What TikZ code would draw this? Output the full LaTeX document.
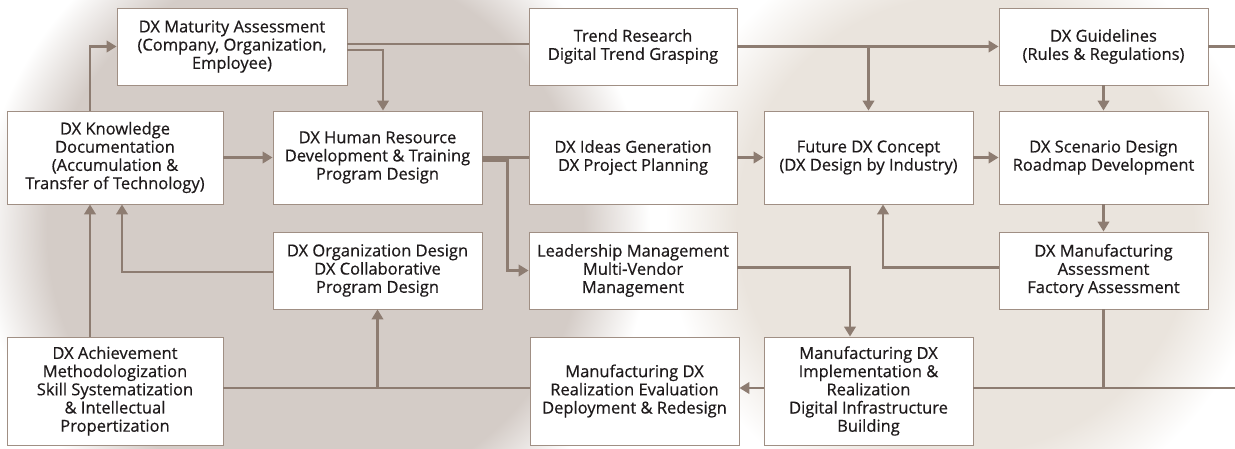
\documentclass[tikz,border=0pt]{standalone}
\usepackage{fontspec}
\setmainfont{Open Sans}
\newfontfamily\boxfont{Open Sans}[FakeBold=0.5]
\usetikzlibrary{arrows.meta,positioning,calc}
\definecolor{lnc}{RGB}{141,124,113}
\definecolor{boxc}{RGB}{160,143,132}
\definecolor{txtc}{RGB}{30,26,27}
\definecolor{blobl}{RGB}{212,204,199}
\definecolor{blobr}{RGB}{234,228,221}
\pgfdeclareradialshading{blobL}{\pgfpoint{0bp}{0bp}}{color(0bp)=(blobl); color(20bp)=(blobl); color(25bp)=(white); color(50bp)=(white)}
\pgfdeclareradialshading{blobR}{\pgfpoint{0bp}{0bp}}{color(0bp)=(blobr); color(19bp)=(blobr); color(25bp)=(white); color(50bp)=(white)}
\tikzset{
box/.style={draw=boxc, fill=white, line width=0.9pt, align=center, inner sep=0pt, text=txtc, font=\boxfont\fontsize{16.5}{18.2}\selectfont, minimum width=209pt, minimum height=77pt},
ln/.style={draw=lnc, line width=2.4pt},
arr/.style={ln, -{Triangle[length=10pt,width=11.5pt]}}
}

\begin{document}
\begin{tikzpicture}[x=1pt,y=-1pt]
\useasboundingbox (0,0) rectangle (1235,448);
\fill[white] (0,0) rectangle (1235,448);
\shade[shading=blobR] (965,224) circle (300pt);
\shade[shading=blobL] (315,230) circle (335pt);

\node (mat) at (232,46.5) [box, minimum width=230pt] {DX Maturity Assessment\\(Company, Organization,\\Employee)};
\node (trend) at (633,46.5) [box, minimum width=208pt] {Trend Research\\Digital Trend Grasping};
\node (guide) at (1103.5,46.5) [box] {DX Guidelines\\(Rules \& Regulations)};
\node (know) at (115,157.5) [box, minimum width=216pt, minimum height=93pt] {DX Knowledge\\Documentation\\(Accumulation \&\\Transfer of Technology)};
\node (hr) at (377.5,157.5) [box, minimum height=93pt] {DX Human Resource\\Development \& Training\\Program Design};
\node (ideas) at (633,157.5) [box, minimum width=208pt, minimum height=93pt] {DX Ideas Generation\\DX Project Planning};
\node (future) at (868.5,157.5) [box, minimum height=93pt] {Future DX Concept\\(DX Design by Industry)};
\node (scen) at (1103.5,157.5) [box, minimum height=93pt] {DX Scenario Design\\Roadmap Development};
\node (org) at (377.5,270.5) [box] {DX Organization Design\\DX Collaborative\\Program Design};
\node (lead) at (633,270.5) [box, minimum width=208pt] {Leadership Management\\Multi-Vendor\\Management};
\node (mfga) at (1103.5,270.5) [box] {DX Manufacturing\\Assessment\\Factory Assessment};
\node (achv) at (115,391) [box, minimum width=216pt, minimum height=108pt] {DX Achievement\\Methodologization\\Skill Systematization\\\& Intellectual\\Propertization};
\node (real) at (634.5,391) [box, minimum height=108pt] {Manufacturing DX\\Realization Evaluation\\Deployment \& Redesign};
\node (impl) at (868.5,391) [box, minimum height=108pt] {Manufacturing DX\\Implementation \&\\Realization\\Digital Infrastructure\\Building};

\coordinate (gout) at (1235,46.5);
\coordinate (bot) at ([yshift=3pt]achv.east);
\coordinate (iout) at (1235,388);

\draw[arr] ([xshift=-25pt]know.north) |- (mat.west);
\draw[ln] ([yshift=2.5pt]mat.east) -- ([yshift=2.5pt]trend.west);
\draw[arr] ([yshift=-3.5pt]mat.east) -| ([xshift=5.5pt]hr.north);
\draw[arr] (know) -- (hr);
\draw[ln] (hr) -- (ideas);
\draw[arr] ([yshift=-3pt]hr.east) -| ([xshift=-21pt]lead.west) -- (lead.west);
\draw[arr] (trend) -- (guide);
\draw[arr] (trend.east -| future.north) -- (future.north);
\draw[ln] (guide) -- (gout);
\draw[arr] (ideas) -- (future);
\draw[arr] (future) -- (scen);
\draw[arr] (guide) -- (scen);
\draw[arr] (scen) -- (mfga);
\draw[arr] ([yshift=3pt]mfga.west) -| ([xshift=14.5pt]future.south);
\draw[arr] ([yshift=3pt]lead.east) -| ([xshift=-18.5pt]impl.north);
\draw[arr] ([yshift=3pt]impl.west) -- ([yshift=3pt]real.east);
\draw[ln] ([yshift=3pt]impl.east) -- (iout);
\draw[ln] (mfga.south) -- (mfga.south |- iout);
\draw[ln] (bot) -- ([yshift=3pt]real.west);
\draw[arr] (bot -| org.south) -- (org.south);
\draw[arr] ([xshift=-25pt]achv.north) -- ([xshift=-25pt]know.south);
\draw[arr] ([yshift=-1.5pt]org.west) -| ([xshift=7pt]know.south);
\end{tikzpicture}
\end{document}
